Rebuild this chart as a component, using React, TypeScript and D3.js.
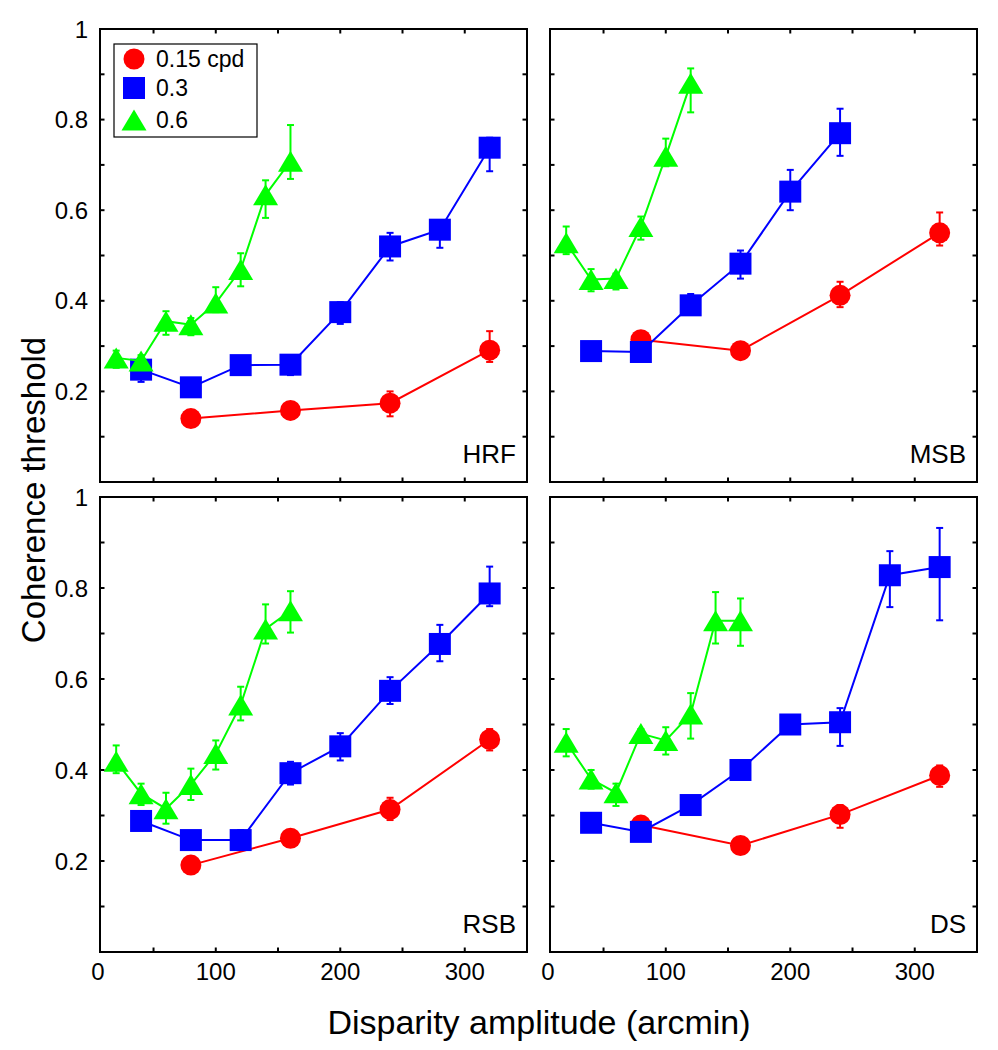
import * as d3 from "d3"

// panel names and x positions (arcmin)
const panelNames = ["HRF", "MSB", "RSB", "DS"]
const xRed = [80, 160, 240, 320]
const xBlue = [40, 80, 120, 160, 200, 240, 280, 320]
const xGreen = [20, 40, 60, 80, 100, 120, 140, 160]

// HRF
const hrfRed = [0.14, 0.158, 0.174, 0.291]
const hrfRedLo = [0.13, 0.148, 0.145, 0.265]
const hrfRedHi = [0.15, 0.168, 0.2, 0.333]
const hrfBlue = [0.248, 0.209, 0.258, 0.259, 0.375, 0.52, 0.557, 0.738]
const hrfBlueLo = [0.221, 0.2, 0.248, 0.236, 0.349, 0.489, 0.517, 0.686]
const hrfBlueHi = [0.27, 0.22, 0.268, 0.27, 0.397, 0.55, 0.575, 0.76]
const hrfGreen = [0.274, 0.267, 0.355, 0.347, 0.395, 0.469, 0.634, 0.708]
const hrfGreenLo = [0.252, 0.252, 0.325, 0.324, 0.375, 0.432, 0.583, 0.669]
const hrfGreenHi = [0.29, 0.28, 0.377, 0.362, 0.43, 0.505, 0.666, 0.788]

// MSB
const msbRed = [0.314, 0.29, 0.412, 0.55]
const msbRedLo = [0.3, 0.28, 0.386, 0.522]
const msbRedHi = [0.325, 0.3, 0.442, 0.595]
const msbBlue = [0.289, 0.287, 0.39, 0.482, 0.641, 0.77]
const msbBlueLo = [0.28, 0.278, 0.38, 0.449, 0.6, 0.72]
const msbBlueHi = [0.3, 0.297, 0.415, 0.511, 0.689, 0.824]
const msbGreen = [0.528, 0.447, 0.449, 0.564, 0.719, 0.88]
const msbGreenLo = [0.503, 0.421, 0.425, 0.535, 0.697, 0.816]
const msbGreenHi = [0.564, 0.47, 0.46, 0.586, 0.758, 0.913]

// RSB
const rsbRed = [0.191, 0.25, 0.313, 0.467]
const rsbRedLo = [0.18, 0.24, 0.29, 0.443]
const rsbRedHi = [0.2, 0.26, 0.339, 0.49]
const rsbBlue = [0.288, 0.246, 0.246, 0.393, 0.452, 0.574, 0.677, 0.788]
const rsbBlueLo = [0.278, 0.236, 0.236, 0.368, 0.421, 0.545, 0.639, 0.76]
const rsbBlueHi = [0.298, 0.256, 0.268, 0.418, 0.481, 0.604, 0.719, 0.847]
const rsbGreen = [0.419, 0.348, 0.315, 0.368, 0.436, 0.543, 0.71, 0.75]
const rsbGreenLo = [0.393, 0.323, 0.282, 0.334, 0.401, 0.509, 0.678, 0.702]
const rsbGreenHi = [0.454, 0.37, 0.35, 0.403, 0.465, 0.583, 0.764, 0.793]

// DS
const dsRed = [0.279, 0.234, 0.302, 0.388]
const dsRedLo = [0.27, 0.224, 0.273, 0.363]
const dsRedHi = [0.29, 0.244, 0.323, 0.41]
const dsBlue = [0.284, 0.264, 0.323, 0.4, 0.5, 0.505, 0.828, 0.846]
const dsBlueLo = [0.274, 0.254, 0.313, 0.39, 0.49, 0.453, 0.758, 0.729]
const dsBlueHi = [0.294, 0.274, 0.333, 0.41, 0.51, 0.536, 0.881, 0.932]
const dsGreen = [0.461, 0.38, 0.35, 0.48, 0.465, 0.523, 0.728, 0.728]
const dsGreenLo = [0.43, 0.359, 0.321, 0.47, 0.434, 0.469, 0.678, 0.673]
const dsGreenHi = [0.49, 0.4, 0.37, 0.49, 0.494, 0.569, 0.791, 0.777]

const legendLabels = ["0.15 cpd", "0.3", "0.6"]
const xTickMarks = [50, 100, 150, 200, 250, 300]
const xTickLabels = [0, 100, 200, 300]
const yTickMarks = [0.1, 0.2, 0.3, 0.4, 0.5, 0.6, 0.7, 0.8, 0.9]
const yTickLabels = [0.2, 0.4, 0.6, 0.8, 1]

const RED = "#ff0000"
const BLUE = "#0000ff"
const GREEN = "#00ff00"
const FONT = "'Liberation Sans', Arial, Helvetica, sans-serif"

type Series = { x: number[]; y: number[]; lo: number[]; hi: number[]; color: string; shape: string }

const panelSeries: Series[][] = [
    [
        { x: xRed, y: hrfRed, lo: hrfRedLo, hi: hrfRedHi, color: RED, shape: "circle" },
        { x: xBlue, y: hrfBlue, lo: hrfBlueLo, hi: hrfBlueHi, color: BLUE, shape: "square" },
        { x: xGreen, y: hrfGreen, lo: hrfGreenLo, hi: hrfGreenHi, color: GREEN, shape: "triangle" },
    ],
    [
        { x: xRed, y: msbRed, lo: msbRedLo, hi: msbRedHi, color: RED, shape: "circle" },
        { x: xBlue.slice(0, 6), y: msbBlue, lo: msbBlueLo, hi: msbBlueHi, color: BLUE, shape: "square" },
        { x: xGreen.slice(0, 6), y: msbGreen, lo: msbGreenLo, hi: msbGreenHi, color: GREEN, shape: "triangle" },
    ],
    [
        { x: xRed, y: rsbRed, lo: rsbRedLo, hi: rsbRedHi, color: RED, shape: "circle" },
        { x: xBlue, y: rsbBlue, lo: rsbBlueLo, hi: rsbBlueHi, color: BLUE, shape: "square" },
        { x: xGreen, y: rsbGreen, lo: rsbGreenLo, hi: rsbGreenHi, color: GREEN, shape: "triangle" },
    ],
    [
        { x: xRed, y: dsRed, lo: dsRedLo, hi: dsRedHi, color: RED, shape: "circle" },
        { x: xBlue, y: dsBlue, lo: dsBlueLo, hi: dsBlueHi, color: BLUE, shape: "square" },
        { x: xGreen, y: dsGreen, lo: dsGreenLo, hi: dsGreenHi, color: GREEN, shape: "triangle" },
    ],
]

// panel boxes in pixels
const cols = [[100, 527], [550, 977]]
const rows = [[29, 482], [497, 952]]

function Marker({ shape, cx, cy, color }: { shape: string; cx: number; cy: number; color: string }) {
    if (shape === "circle") return <circle cx={cx} cy={cy} r={10.5} fill={color} />
    if (shape === "square") return <rect x={cx - 11} y={cy - 11} width={22} height={22} fill={color} />
    return <path d={`M${cx},${cy - 10.5}L${cx + 12.5},${cy + 10.5}L${cx - 12.5},${cy + 10.5}Z`} fill={color} />
}

function Panel({ idx }: { idx: number }) {
    const col = idx % 2
    const row = Math.floor(idx / 2)
    const [x0, x1] = cols[col]
    const [y0, y1] = rows[row]
    const x = d3.scaleLinear().domain([7, 350]).range([x0, x1])
    const y = d3.scaleLinear().domain([0, 1]).range([y1, y0])
    const tick = 4.5
    const line = d3.line<[number, number]>().x(d => x(d[0])).y(d => y(d[1]))

    return (
        <g>
            {panelSeries[idx].map((s, si) => (
                <g key={si}>
                    <path d={line(s.x.map((v, i) => [v, s.y[i]] as [number, number])) ?? ""}
                        fill="none" stroke={s.color} strokeWidth={2} />
                    {s.x.map((v, i) => (
                        <g key={i} stroke={s.color} strokeWidth={2}>
                            <line x1={x(v)} x2={x(v)} y1={y(s.lo[i])} y2={y(s.hi[i])} />
                            <line x1={x(v) - 3.5} x2={x(v) + 3.5} y1={y(s.lo[i])} y2={y(s.lo[i])} />
                            <line x1={x(v) - 3.5} x2={x(v) + 3.5} y1={y(s.hi[i])} y2={y(s.hi[i])} />
                        </g>
                    ))}
                    {s.x.map((v, i) => (
                        <Marker key={i} shape={s.shape} cx={x(v)} cy={y(s.y[i])} color={s.color} />
                    ))}
                </g>
            ))}
            <rect x={x0} y={y0} width={x1 - x0} height={y1 - y0} fill="none" stroke="#000" strokeWidth={2} />
            <g stroke="#000" strokeWidth={2}>
                {xTickMarks.map(t => (
                    <g key={t}>
                        <line x1={x(t)} x2={x(t)} y1={y1} y2={y1 - tick} />
                        <line x1={x(t)} x2={x(t)} y1={y0} y2={y0 + tick} />
                    </g>
                ))}
                {yTickMarks.map(t => (
                    <g key={t}>
                        <line x1={x0} x2={x0 + tick} y1={y(t)} y2={y(t)} />
                        <line x1={x1} x2={x1 - tick} y1={y(t)} y2={y(t)} />
                    </g>
                ))}
            </g>
            {col === 0 && yTickLabels.map(t => (
                <text key={t} x={x0 - 12} y={y(t)} dy="0.36em" textAnchor="end"
                    fontFamily={FONT} fontSize={24}>{String(t)}</text>
            ))}
            {row === 1 && xTickLabels.map(t => (
                <text key={t} x={x(Math.max(t, 7)) - (t === 0 ? 2 : 0)} y={y1 + 28} textAnchor="middle"
                    fontFamily={FONT} fontSize={24}>{String(t)}</text>
            ))}
            <text x={x1 - 11} y={y1 - 19} textAnchor="end" fontFamily={FONT} fontSize={26}>{panelNames[idx]}</text>
        </g>
    )
}

function Legend() {
    const lx = 114, ly = 44, w = 143, h = 93
    const rowsY = [59, 88, 120]
    const colors = [RED, BLUE, GREEN]
    const shapes = ["circle", "square", "triangle"]
    return (
        <g>
            <rect x={lx} y={ly} width={w} height={h} fill="#fff" stroke="#000" strokeWidth={1.2} />
            {legendLabels.map((lab, i) => (
                <g key={lab}>
                    <Marker shape={shapes[i]} cx={134} cy={rowsY[i]} color={colors[i]} />
                    <text x={156} y={rowsY[i]} dy="0.36em" fontFamily={FONT} fontSize={23}>{lab}</text>
                </g>
            ))}
        </g>
    )
}

export default function App() {
    return (
        <svg width={998} height={1050} style={{ position: "absolute", left: 0, top: 0, background: "#fff" }}>
            {[0, 1, 2, 3].map(i => <Panel key={i} idx={i} />)}
            <Legend />
            <text x={539} y={1034} textAnchor="middle" fontFamily={FONT} fontSize={34}>Disparity amplitude (arcmin)</text>
            <text transform="translate(45,490) rotate(-90)" textAnchor="middle" fontFamily={FONT} fontSize={33}>Coherence threshold</text>
        </svg>
    )
}
